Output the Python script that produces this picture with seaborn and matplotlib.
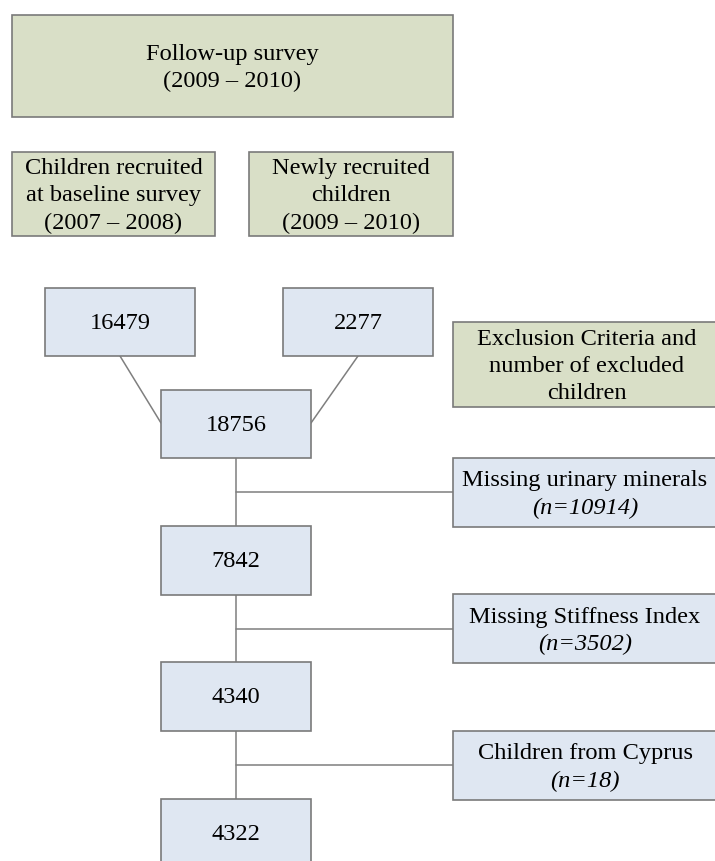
"""
Flow chart of the follow-up survey sample (2009 - 2010)
"""

import pandas as pd
import matplotlib
matplotlib.use('Agg')
import matplotlib.pyplot as plt
from matplotlib.patches import Rectangle
import seaborn as sns

# ── Data ───────────────────────────────────────────────────────────────────
survey_title = 'Follow-up survey\n(2009 – 2010)'
sources = ['Children recruited\nat baseline survey\n(2007 – 2008)',
           'Newly recruited\nchildren\n(2009 – 2010)']
source_counts = [16479, 2277]
flow_counts = [18756, 7842, 4340, 4322]
exclusion_title = 'Exclusion Criteria and\nnumber of excluded\nchildren'
exclusion_reasons = ['Missing urinary minerals', 'Missing Stiffness Index',
                     'Children from Cyprus']
excluded_n = [10914, 3502, 18]

# ── Layout (pixels, y down) ────────────────────────────────────────────────
W, H = 715, 862
GREEN = '#d9dfc7'
BLUE = '#dfe7f2'
EDGE = '#7a7a7a'
LINE = '#7f7f7f'
FS = 17.6
LS = 1.4

title_box = (12, 16, 453, 118)
source_boxes = [(12, 153, 215, 237), (249, 153, 453, 237)]
count_boxes = [(45, 289, 195, 357), (283, 289, 433, 357)]
flow_boxes = [(161, 391, 311, 459), (161, 527, 311, 596),
              (161, 663, 311, 732), (161, 800, 311, 880)]
excl_title_box = (453, 323, 720, 408)
excl_x0, excl_x1, excl_h = 453, 720, 69

sns.set_theme(style='white')
plt.rcParams['font.family'] = ['Liberation Serif', 'DejaVu Serif']
plt.rcParams['text.color'] = 'black'

fig = plt.figure(figsize=(W / 100, H / 100), dpi=100)
ax = fig.add_axes([0, 0, 1, 1])


def box(b, color, text=None, yc=None, **kw):
    x0, y0, x1, y1 = b
    ax.add_patch(Rectangle((x0, y0), x1 - x0, y1 - y0, facecolor=color,
                           edgecolor=EDGE, linewidth=1.2, zorder=2))
    if text is not None:
        if yc is None:
            yc = (y0 + y1) / 2 + 1
        ax.text((x0 + x1) / 2, yc, text, ha='center', va='center',
                fontsize=FS, linespacing=LS, zorder=3, **kw)


# ── Connectors via seaborn ─────────────────────────────────────────────────
segs = []
cx = 236
# diagonal joins from the two sources into the total
segs.append([(120, count_boxes[0][3]), (flow_boxes[0][0], 424)])
segs.append([(358, count_boxes[1][3]), (flow_boxes[0][2], 424)])
mid_ys = []
for upper, lower in zip(flow_boxes[:-1], flow_boxes[1:]):
    segs.append([(cx, upper[3]), (cx, lower[1])])
    my = (upper[3] + lower[1]) / 2
    mid_ys.append(my)
    segs.append([(cx, my), (excl_x0, my)])

rows = []
for i, seg in enumerate(segs):
    for x, y in seg:
        rows.append({'x': x, 'y': y, 'seg': i})
lines = pd.DataFrame(rows)
sns.lineplot(data=lines, x='x', y='y', units='seg', estimator=None,
             sort=False, color=LINE, linewidth=1.1, legend=False, ax=ax)
ax.set_xlim(0, W)
ax.set_ylim(H, 0)
ax.axis('off')

# ── Boxes ──────────────────────────────────────────────────────────────────
box(title_box, GREEN, survey_title)
for b, t in zip(source_boxes, sources):
    box(b, GREEN, t)
for b, n in zip(count_boxes, source_counts):
    box(b, BLUE, str(n))
for b, n in zip(flow_boxes, flow_counts):
    box(b, BLUE, str(n), yc=b[1] + 35)
box(excl_title_box, GREEN, exclusion_title)

for my, reason, n in zip(mid_ys, exclusion_reasons, excluded_n):
    b = (excl_x0, my - excl_h / 2, excl_x1, my + excl_h / 2)
    box(b, BLUE)
    xc = (excl_x0 + 715) / 2 + 1
    ax.text(xc, my - 12, reason, ha='center', va='center', fontsize=FS, zorder=3)
    ax.text(xc, my + 15, f'(n={n})', ha='center', va='center', fontsize=FS,
            style='italic', zorder=3)

plt.savefig('out.png', dpi=100)
plt.close()
